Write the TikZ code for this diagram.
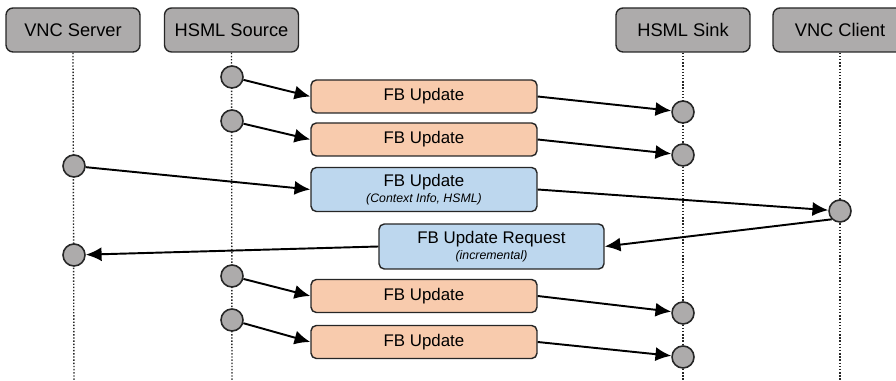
\documentclass[tikz,border=0pt]{standalone}
\usepackage{fontspec}
\setmainfont{Liberation Sans}
\usepackage{tikz}
\usetikzlibrary{shapes,arrows.meta}
\definecolor{hgray}{HTML}{ADABAB}
\definecolor{bline}{HTML}{262626}
\definecolor{borange}{HTML}{F8CBAD}
\definecolor{bblue}{HTML}{BDD7EE}
\tikzstyle{actor} = [rectangle, draw=bline, thick, fill=hgray, rounded corners=4pt, minimum width=2.68cm, minimum height=0.88cm, font=\fontsize{10.4}{12}\selectfont]
\tikzstyle{msg} = [rectangle, draw=bline, thick, rounded corners=3pt, minimum width=4.52cm, minimum height=0.66cm, align=center, font=\fontsize{9.6}{11}\selectfont]
\tikzstyle{event} = [circle, draw=bline, line width=0.9pt, fill=hgray, minimum size=0.44cm, inner sep=0pt]
\tikzstyle{lifeline} = [draw=bline, densely dotted, line width=0.8pt]
\tikzstyle{arrow} = [draw, -{Latex[length=9pt, width=8pt]}, line width=1.1pt]
\newcommand{\subnote}[1]{{\fontsize{7}{8}\selectfont\itshape #1}}

\begin{document}
\begin{tikzpicture}[x=0.02cm, y=-0.02cm]
\useasboundingbox (0, 0) rectangle (896, 381);

%% actors
\node[actor] at (73, 30) (server) {VNC Server};
\node[actor] at (231.5, 30) (source) {HSML Source};
\node[actor] at (683, 30) (sink) {HSML Sink};
\node[actor] at (840, 30) (client) {VNC Client};

%% lifelines
\coordinate (serverend) at (74, 381);
\coordinate (sourceend) at (232, 381);
\coordinate (sinkend) at (683, 381);
\coordinate (clientend) at (840, 381);
\path[lifeline] (server.south) -- (serverend);
\path[lifeline] (source.south) -- (sourceend);
\path[lifeline] (sink.south) -- (sinkend);
\path[lifeline] (client.south) -- (clientend);

%% first two updates
\node[event] at (232, 77) (src1) {};
\node[msg, fill=borange] at (424, 96.5) (upd1) {FB Update};
\node[event] at (683, 112) (snk1) {};
\path[arrow] (src1) -- (upd1.west);
\path[arrow] (upd1.east) -- (snk1);

\node[event] at (232, 121) (src2) {};
\node[msg, fill=borange] at (424, 139.5) (upd2) {FB Update};
\node[event] at (683, 155) (snk2) {};
\path[arrow] (src2) -- (upd2.west);
\path[arrow] (upd2.east) -- (snk2);

%% server to client
\node[event] at (74, 166) (srv1) {};
\node[msg, fill=bblue, minimum height=0.88cm] at (424, 189.5) (ctxupd) {FB Update\\[-2pt]\subnote{(Context Info, HSML)}};
\node[event] at (840, 211) (cli1) {};
\path[arrow] (srv1) -- (ctxupd.west);
\path[arrow] (ctxupd.east) -- (cli1);

%% request back
\node[msg, fill=bblue, minimum width=4.5cm, minimum height=0.9cm] at (491.5, 246.5) (request) {FB Update Request\\[-2pt]\subnote{(incremental)}};
\node[event] at (74, 255) (srv2) {};
\path[arrow] (cli1.south west) -- (request.east);
\path[arrow] (request.west) -- (srv2);

%% last two updates
\node[event] at (232, 276) (src3) {};
\node[msg, fill=borange] at (424, 296) (upd3) {FB Update};
\node[event] at (683, 313) (snk3) {};
\path[arrow] (src3) -- (upd3.west);
\path[arrow] (upd3.east) -- (snk3);

\node[event] at (232, 320) (src4) {};
\node[msg, fill=borange] at (424, 342) (upd4) {FB Update};
\node[event] at (683, 357) (snk4) {};
\path[arrow] (src4) -- (upd4.west);
\path[arrow] (upd4.east) -- (snk4);

\end{tikzpicture}
\end{document}
